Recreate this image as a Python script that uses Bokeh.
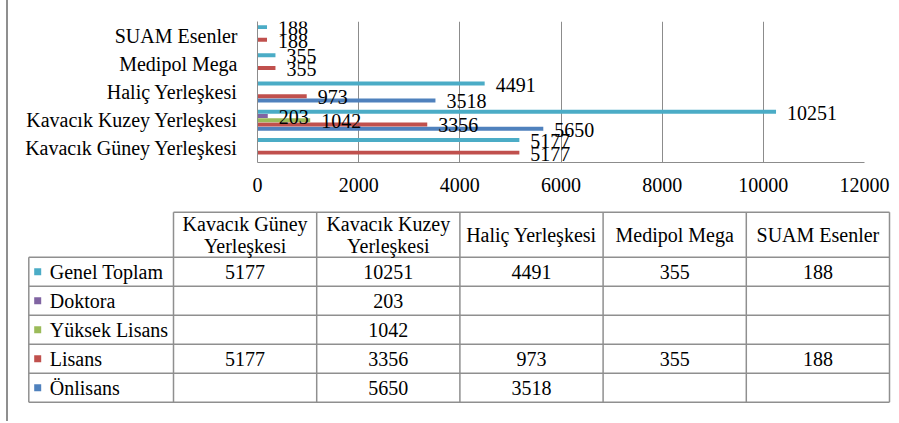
from bokeh.plotting import figure
from bokeh.models import Range1d, FactorRange, FixedTicker, ColumnDataSource, Div
from bokeh.layouts import row, column
from bokeh.transform import dodge
from bokeh.core.properties import value
from bokeh.embed import file_html
from bokeh.resources import INLINE

# ---------------- data ----------------
campuses = ["Kavacık Güney Yerleşkesi", "Kavacık Kuzey Yerleşkesi",
            "Haliç Yerleşkesi", "Medipol Mega", "SUAM Esenler"]
onlisans = [None, 5650, 3518, None, None]
lisans = [5177, 3356, 973, 355, 188]
yuksek_lisans = [None, 1042, None, None, None]
doktora = [None, 203, None, None, None]
genel_toplam = [5177, 10251, 4491, 355, 188]
series_names = ["Önlisans", "Lisans", "Yüksek Lisans", "Doktora", "Genel Toplam"]
x_ticks = [0, 2000, 4000, 6000, 8000, 10000, 12000]

series_values = [onlisans, lisans, yuksek_lisans, doktora, genel_toplam]
colors = ["#4F81BD", "#C0504D", "#9BBB59", "#8064A2", "#4BACC6"]

FONT = "Liberation Serif"
FS = "20px"
GRID = "#8c8c8c"
TABLE_LINE = "#8f8f8f"

X0 = 8          # page x where the figures start
W = 883         # figure width
TOTAL_H = 421
H1 = 205

# ---------------- bar chart ----------------
p = figure(width=W, height=H1, x_range=Range1d(0, 12000),
           y_range=FactorRange(factors=campuses),
           output_backend="svg", toolbar_location=None,
           min_border_left=249, min_border_right=27,
           min_border_top=21, min_border_bottom=43)
p.frame_align = False
p.outline_line_color = None
p.background_fill_color = "white"
p.border_fill_color = "white"
p.ygrid.grid_line_color = None
p.xgrid.grid_line_color = GRID
p.xgrid.grid_line_width = 1
p.xaxis.ticker = FixedTicker(ticks=x_ticks)
p.xaxis.major_tick_line_color = None
p.xaxis.minor_tick_line_color = None
p.xaxis.axis_line_color = GRID
p.xaxis.major_label_text_font = FONT
p.xaxis.major_label_text_font_size = FS
p.xaxis.major_label_text_color = "black"
p.xaxis.major_label_standoff = 9
p.yaxis.major_tick_line_color = None
p.yaxis.minor_tick_line_color = None
p.yaxis.axis_line_color = GRID
p.yaxis.major_label_text_font = FONT
p.yaxis.major_label_text_font_size = FS
p.yaxis.major_label_text_color = "black"
p.yaxis.major_label_standoff = 14

slot = 0.15
bar_h = 0.14
sources = []
for j, vals in enumerate(series_values):
    ys = [c for c, v in zip(campuses, vals) if v is not None]
    xs = [v for v in vals if v is not None]
    src = ColumnDataSource(dict(y=ys, x=xs, label=[str(v) for v in xs]))
    off = (j - 2) * slot
    sources.append((src, off))
    p.hbar(y=dodge("y", off, range=p.y_range), left=0, right="x", height=bar_h,
           source=src, fill_color=colors[j], line_color=None)

for src, off in sources:
    p.text(x="x", y=dodge("y", off, range=p.y_range), text="label", source=src,
           x_offset=11, y_offset=1, text_align="left", text_baseline="middle",
           text_font=value(FONT), text_font_size=FS, text_color="black")

# ---------------- data table ----------------
t = figure(width=W, height=TOTAL_H - H1, x_range=Range1d(X0, X0 + W),
           y_range=Range1d(TOTAL_H, H1),
           output_backend="svg", toolbar_location=None,
           x_axis_type=None, y_axis_type=None,
           min_border_left=0, min_border_right=0, min_border_top=0, min_border_bottom=0)
t.frame_align = False
t.outline_line_color = None
t.grid.grid_line_color = None
t.background_fill_color = "white"
t.border_fill_color = "white"

left_x = 28.3
col_x0 = 173.0
col_w = 143.2
head_top = 211.7
head_bot = 256.7
row_h = 29.0
n_cols = len(campuses)
n_rows = len(series_names)
right_x = col_x0 + n_cols * col_w
bottom_y = head_bot + n_rows * row_h

x0s, y0s, x1s, y1s = [], [], [], []
# horizontal lines
x0s.append(col_x0); y0s.append(head_top); x1s.append(right_x); y1s.append(head_top)
for r in range(n_rows + 1):
    yy = head_bot + r * row_h
    x0s.append(left_x); y0s.append(yy); x1s.append(right_x); y1s.append(yy)
# vertical lines
x0s.append(left_x); y0s.append(head_bot); x1s.append(left_x); y1s.append(bottom_y)
for c in range(n_cols + 1):
    xx = col_x0 + c * col_w
    x0s.append(xx); y0s.append(head_top); x1s.append(xx); y1s.append(bottom_y)
t.segment(x0=x0s, y0=y0s, x1=x1s, y1=y1s, line_color=TABLE_LINE, line_width=1.5)

# header texts
hx, hy, ht = [], [], []
for c, name in enumerate(campuses):
    cx = col_x0 + (c + 0.5) * col_w
    if len(name) > 18:
        a, b = name.rsplit(" ", 1)
        hx += [cx, cx]; hy += [223.3, 245.0]; ht += [a, b]
    else:
        hx.append(cx); hy.append((head_top + head_bot) / 2); ht.append(name)
t.text(x=hx, y=hy, text=ht, text_align="center", text_baseline="middle",
       text_font=value(FONT), text_font_size=FS, text_color="black")

# rows: top row is the last series (Genel Toplam)
row_order = list(range(n_rows))[::-1]
lx, ly, lt, sq_x, sq_y, sq_c = [], [], [], [], [], []
dx, dy, dt = [], [], []
for r, j in enumerate(row_order):
    cy = head_bot + (r + 0.5) * row_h
    sq_x.append(37.2); sq_y.append(cy); sq_c.append(colors[j])
    lx.append(49.3); ly.append(cy); lt.append(series_names[j])
    for c, v in enumerate(series_values[j]):
        if v is not None:
            dx.append(col_x0 + (c + 0.5) * col_w); dy.append(cy); dt.append(str(v))
t.scatter(x=sq_x, y=sq_y, marker="square", size=7, fill_color=sq_c, line_color=None)
t.text(x=lx, y=ly, text=lt, text_align="left", text_baseline="middle",
       text_font=value(FONT), text_font_size=FS, text_color="black")
t.text(x=dx, y=dy, text=dt, text_align="center", text_baseline="middle",
       text_font=value(FONT), text_font_size=FS, text_color="black")

edge = Div(width=2, height=TOTAL_H, margin=(0, 0, 0, 6),
           styles={"background-color": "#8f8f8f"})
layout = row(edge, column(p, t))

open("out.html", "w").write(file_html(layout, INLINE))
